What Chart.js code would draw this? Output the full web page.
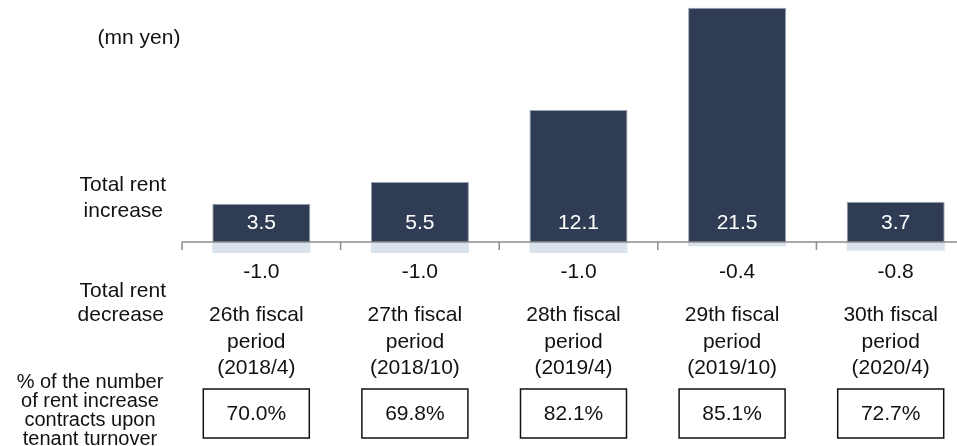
<!DOCTYPE html>
<html>
<head>
<meta charset="utf-8">
<script src="https://cdn.jsdelivr.net/npm/chart.js@4.4.1/dist/chart.umd.min.js"></script>
<style>
  html, body { margin: 0; padding: 0; background: #fff; overflow: hidden; }
  #rentChart { display: block; }
</style>
</head>
<body>
<canvas id="rentChart" width="975" height="446" style="width:975px;height:446px"></canvas>
<script>
// ---- data ----
const periods      = ['26th fiscal', '27th fiscal', '28th fiscal', '29th fiscal', '30th fiscal'];
const periodDates  = ['(2018/4)', '(2018/10)', '(2019/4)', '(2019/10)', '(2020/4)'];
const rentIncrease = [3.5, 5.5, 12.1, 21.5, 3.7];
const rentDecrease = [-1.0, -1.0, -1.0, -0.4, -0.8];
const increaseRate = ['70.0%', '69.8%', '82.1%', '85.1%', '72.7%'];

const FONT = '"Liberation Sans", Arial, sans-serif';
const navy  = '#2f3c54';
const paleBlue = '#dae2ec';

// Draws the zero axis, labels and boxes around the bars
const annotate = {
    id: 'annotate',
    afterDatasetsDraw(chart) {
        const ctx  = chart.ctx;
        const area = chart.chartArea;
        const y    = chart.scales.y;
        const y0   = y.getPixelForValue(0);
        const step = (area.right - area.left) / periods.length;

        ctx.save();

        // axis line + boundary ticks
        ctx.strokeStyle = '#8c8c8c';
        ctx.lineWidth = 1.5;
        ctx.beginPath();
        ctx.moveTo(area.left, y0);
        ctx.lineTo(area.right, y0);
        for (let i = 0; i <= periods.length; i++) {
            const tx = area.left + i * step;
            ctx.moveTo(tx, y0);
            ctx.lineTo(tx, y0 + 8);
        }
        ctx.stroke();

        ctx.textAlign = 'center';
        ctx.textBaseline = 'middle';

        const incMeta = chart.getDatasetMeta(0);
        incMeta.data.forEach((bar, i) => {
            const cx = bar.x;
            const lx = cx - 5;

            // value inside bar, near its base
            ctx.fillStyle = '#ffffff';
            ctx.font = '21px ' + FONT;
            ctx.fillText(rentIncrease[i].toFixed(1), cx, y0 - 19);

            // decrease value
            ctx.fillStyle = '#111';
            ctx.fillText(rentDecrease[i].toFixed(1), cx, 272);

            // period label
            ctx.fillText(periods[i], lx, 315);
            ctx.fillText('period', lx, 342);
            ctx.fillText(periodDates[i], lx, 368);

            // percentage box
            ctx.strokeStyle = '#111';
            ctx.lineWidth = 1.5;
            ctx.strokeRect(lx - 53, 389, 106, 49);
            ctx.fillText(increaseRate[i], lx, 414);
        });

        // left-side captions
        ctx.fillStyle = '#111';
        ctx.font = '21px ' + FONT;
        ctx.fillText('(mn yen)', 139, 38);
        ctx.textAlign = 'right';
        ctx.fillText('Total rent', 166, 185);
        ctx.fillText('increase', 163, 211);
        ctx.fillText('Total rent', 166, 291);
        ctx.fillText('decrease', 164, 315);

        ctx.textAlign = 'center';
        ctx.font = '20px ' + FONT;
        ['% of the number', 'of rent increase', 'contracts upon', 'tenant turnover']
            .forEach((t, k) => ctx.fillText(t, 90, 382 + k * 19));

        ctx.restore();
    }
};

new Chart(document.getElementById('rentChart').getContext('2d'), {
    type: 'bar',
    data: {
        labels: periods,
        datasets: [
            {
                label: 'Total rent increase',
                data: rentIncrease,
                backgroundColor: navy,
                borderColor: '#9aa2b0',
                borderWidth: 1,
                barPercentage: 0.618,
                categoryPercentage: 1
            },
            {
                label: 'Total rent decrease',
                data: rentDecrease,
                backgroundColor: paleBlue,
                borderWidth: 0,
                barPercentage: 0.618,
                categoryPercentage: 1
            }
        ]
    },
    options: {
        responsive: false,
        devicePixelRatio: 1,
        animation: false,
        layout: { padding: { left: 182, right: 0, top: 0, bottom: 186 } },
        plugins: { legend: { display: false }, tooltip: { enabled: false } },
        scales: {
            x: { stacked: true, display: false },
            y: { stacked: true, display: false, min: -1.65, max: 22.2 }
        }
    },
    plugins: [annotate]
});
</script>
</body>
</html>
